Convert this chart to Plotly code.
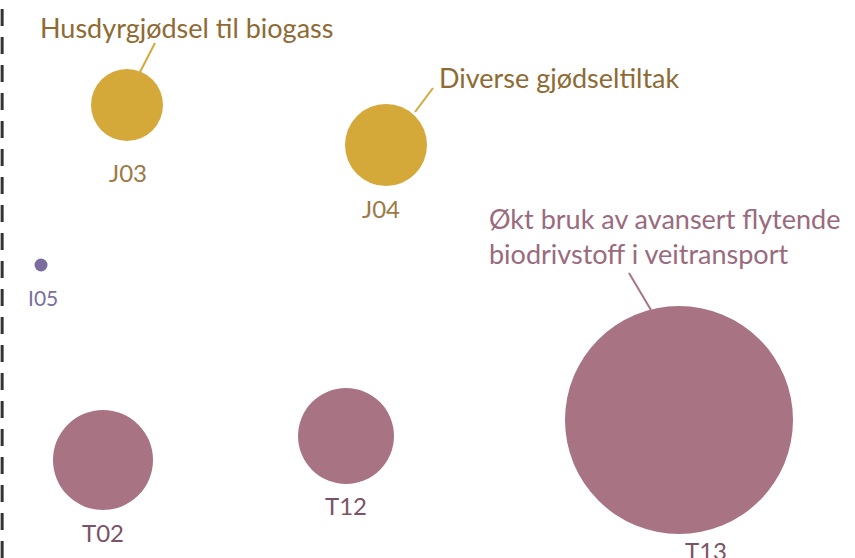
import plotly.graph_objects as go

# Data (arbitrary chart units)
codes = ["J03", "J04", "I05", "T02", "T12", "T13"]
x_vals = [1.27, 3.86, 0.41, 1.03, 3.46, 6.79]
y_vals = [4.53, 4.13, 2.93, 0.98, 1.22, 1.38]
sizes = [72, 82, 13, 100, 96, 228]
groups = ["J", "J", "I", "T", "T", "T"]

callout_texts = {
    "J03": "Husdyrgjødsel til biogass",
    "J04": "Diverse gjødseltiltak",
    "T13": "Økt bruk av avansert flytende<br>biodrivstoff i veitransport",
}

fill = {"J": "#D5A83A", "I": "#7B6E9E", "T": "#A87484"}
label_col = {"J": "#9C7A45", "I": "#7B6E9E", "T": "#7C5266"}
callout_col = {"J": "#8E6B33", "T": "#9A6A7E"}

FONT = "Lato, sans-serif"

fig = go.Figure()
for g in ["J", "I", "T"]:
    idx = [i for i, gg in enumerate(groups) if gg == g]
    fig.add_trace(go.Scatter(
        x=[x_vals[i] for i in idx],
        y=[y_vals[i] for i in idx],
        mode="markers",
        text=[codes[i] for i in idx],
        marker=dict(size=[sizes[i] for i in idx], sizemode="diameter", sizeref=1,
                    color=fill[g], line=dict(width=0), opacity=1),
        hoverinfo="text",
        showlegend=False,
    ))

# Code labels below bubbles: (xshift px, downward shift px)
label_shift = {"J03": (1, 67), "J04": (-5, 63), "I05": (2, 32),
               "T02": (0, 72), "T12": (0, 69), "T13": (27, 130)}
for i, c in enumerate(codes):
    dx, dy = label_shift[c]
    fig.add_annotation(x=x_vals[i], y=y_vals[i], text=c, showarrow=False,
                       xshift=dx, yshift=-dy, xanchor="center", yanchor="middle",
                       font=dict(family=FONT, size=24 if groups[i] != "I" else 21,
                                 color=label_col[groups[i]]))

# Callout texts with leader lines
callout_layout = {
    # code: (text x offset, text y offset, line start dx, dy, line end dx, dy) in chart units
    "J03": (-0.89, 0.78, 0.28, 0.62, 0.13, 0.33),
    "J04": (0.51, 0.68, 0.47, 0.57, 0.29, 0.33),
    "T13": (-1.92, 1.84, -0.50, 1.47, -0.28, 1.10),
}
for code, txt in callout_texts.items():
    i = codes.index(code)
    g = groups[i]
    tx, ty, sx, sy, ex, ey = callout_layout[code]
    fig.add_annotation(x=x_vals[i] + tx, y=y_vals[i] + ty, text=txt, showarrow=False,
                       xanchor="left", yanchor="middle", align="left",
                       font=dict(family=FONT, size=27, color=callout_col[g]))
    fig.add_shape(type="line", x0=x_vals[i] + sx, y0=y_vals[i] + sy,
                  x1=x_vals[i] + ex, y1=y_vals[i] + ey,
                  line=dict(color=fill[g], width=2))

# Dashed vertical line at left edge
fig.add_shape(type="line", xref="paper", yref="paper", x0=0.0025, x1=0.0025, y0=0, y1=1,
              line=dict(color="#333333", width=3, dash="17px,11px"))

fig.update_layout(
    width=855, height=558,
    margin=dict(l=0, r=0, t=0, b=0),
    paper_bgcolor="white", plot_bgcolor="white",
    xaxis=dict(range=[0, 8.55], visible=False, fixedrange=True),
    yaxis=dict(range=[0, 5.58], visible=False, fixedrange=True),
)

fig.write_html("out.html", config={"displayModeBar": False},
               post_script="document.body.style.margin='0';document.body.style.overflow='hidden';")
